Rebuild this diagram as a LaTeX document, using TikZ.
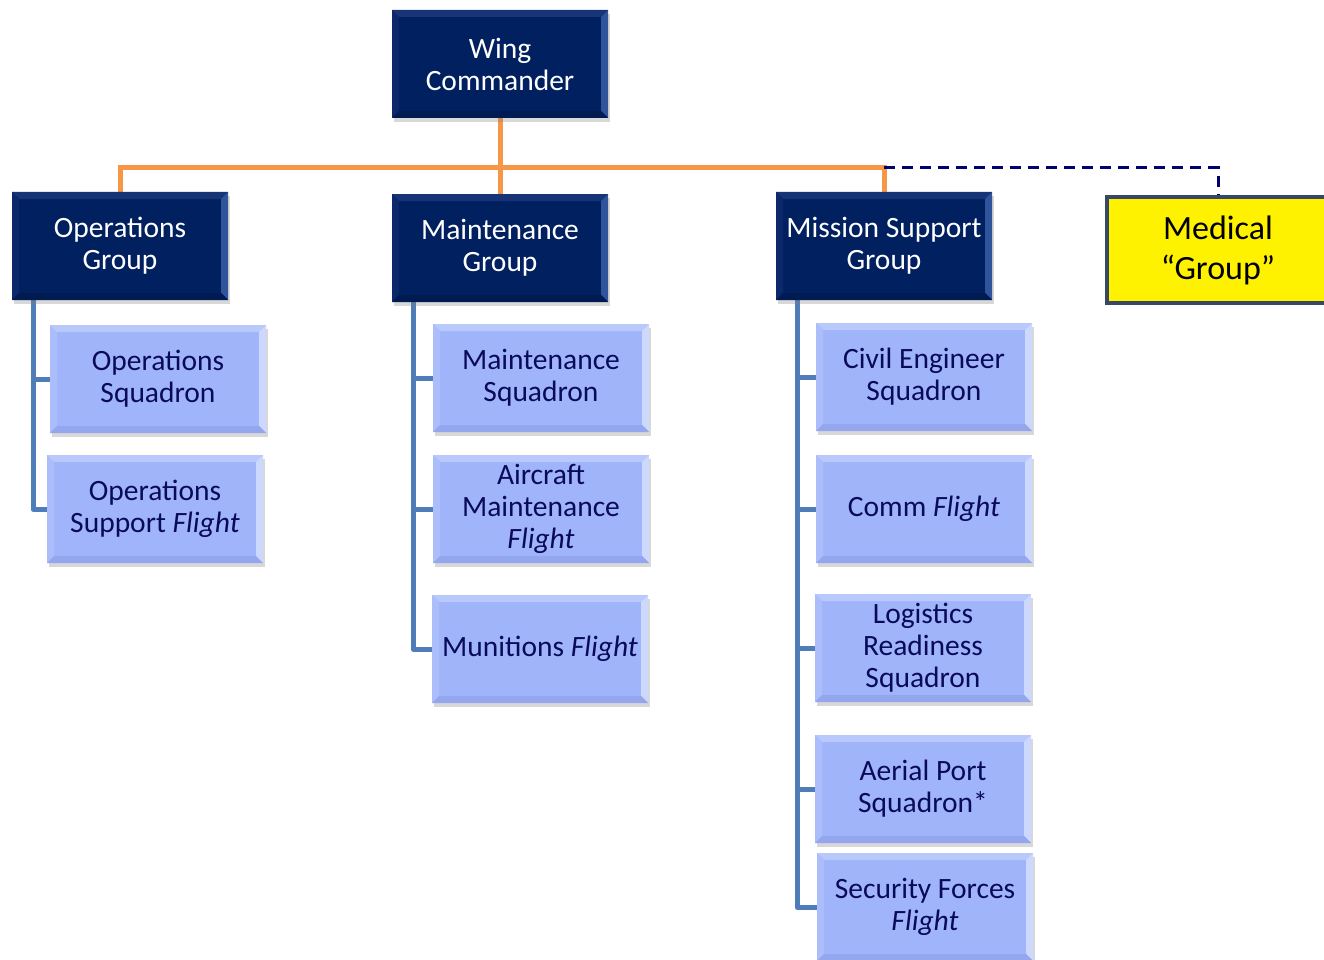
\documentclass[tikz,border=0pt]{standalone}
\usepackage{fontspec}
\setmainfont{Carlito}
\usetikzlibrary{shadows,calc}
\definecolor{navyfill}{RGB}{0,32,96}
\definecolor{navytop}{RGB}{22,52,118}
\definecolor{navyleft}{RGB}{10,40,106}
\definecolor{navyright}{RGB}{48,84,155}
\definecolor{navybot}{RGB}{0,26,82}
\definecolor{lightfill}{RGB}{160,180,250}
\definecolor{lighttop}{RGB}{186,201,252}
\definecolor{lightleft}{RGB}{171,189,251}
\definecolor{lightright}{RGB}{205,216,255}
\definecolor{lightbot}{RGB}{148,167,238}
\definecolor{lighttext}{RGB}{10,10,90}
\definecolor{orgline}{RGB}{247,150,70}
\definecolor{blueline}{RGB}{79,125,185}
\definecolor{dashnavy}{RGB}{0,0,110}
\definecolor{medborder}{RGB}{55,72,100}
\newcommand\bevelfill[4]{%
 \fill[#1] (path picture bounding box.north west) -- (path picture bounding box.north east) -- ([shift={(-7pt,-7pt)}]path picture bounding box.north east) -- ([shift={(7pt,-7pt)}]path picture bounding box.north west) -- cycle;
 \fill[#2] (path picture bounding box.north west) -- (path picture bounding box.south west) -- ([shift={(7pt,7pt)}]path picture bounding box.south west) -- ([shift={(7pt,-7pt)}]path picture bounding box.north west) -- cycle;
 \fill[#3] (path picture bounding box.north east) -- (path picture bounding box.south east) -- ([shift={(-7pt,7pt)}]path picture bounding box.south east) -- ([shift={(-7pt,-7pt)}]path picture bounding box.north east) -- cycle;
 \fill[#4] (path picture bounding box.south west) -- (path picture bounding box.south east) -- ([shift={(-7pt,7pt)}]path picture bounding box.south east) -- ([shift={(7pt,7pt)}]path picture bounding box.south west) -- cycle;
}
\pgfdeclarelayer{bg}
\pgfdeclarelayer{conn}
\pgfsetlayers{bg,conn,main}
\tikzset{
 orgbox/.style={rectangle, minimum width=216pt, minimum height=108pt, inner sep=0pt, align=center,
   drop shadow={shadow xshift=2pt, shadow yshift=-4pt, opacity=0.3}},
 darkbox/.style={orgbox, fill=navyfill, text=white, font=\fontsize{29.5}{32}\selectfont,
   path picture={\bevelfill{navytop}{navyleft}{navyright}{navybot}}},
 lightbox/.style={orgbox, fill=lightfill, text=lighttext, font=\fontsize{29.5}{32}\selectfont,
   path picture={\bevelfill{lighttop}{lightleft}{lightright}{lightbot}}},
 medbox/.style={rectangle, minimum width=222pt, minimum height=106pt, inner sep=0pt, align=center,
   fill=yellow, draw=medborder, line width=3.5pt, text=black, font=\fontsize{34}{40}\selectfont},
 orgconn/.style={draw=orgline, line width=5pt},
 blueconn/.style={draw=blueline, line width=5pt, line join=round},
 dashconn/.style={draw=dashnavy, line width=3pt, dash pattern=on 11pt off 7pt},
}
\begin{document}
\begin{tikzpicture}[x=1pt,y=-1pt]
\begin{pgfonlayer}{bg}
\fill[white] (0,0) rectangle (1324,960);
\end{pgfonlayer}
\useasboundingbox (0,0) rectangle (1324,960);

\node[darkbox] (wc) at (500,64) {Wing\\Commander};
\node[darkbox] (og) at (120,246) {Operations\\Group};
\node[darkbox] (mg) at (500,248) {Maintenance\\Group};
\node[darkbox] (msg) at (884,246) {Mission Support\\Group};
\node[medbox] (med) at (1218,250) {Medical\\“Group”};

\node[lightbox] (ops) at (158,379) {Operations\\Squadron};
\node[lightbox] (osf) at (155,509) {Operations\\Support \textit{Flight}};

\node[lightbox] (mxs) at (541,378) {Maintenance\\Squadron};
\node[lightbox] (amf) at (541,509) {Aircraft\\Maintenance\\\textit{Flight}};
\node[lightbox] (mun) at (540,649) {Munitions \textit{Flight}};

\node[lightbox] (ces) at (924,377) {Civil Engineer\\Squadron};
\node[lightbox] (com) at (924,509) {Comm \textit{Flight}};
\node[lightbox] (lrs) at (923,648) {Logistics\\Readiness\\Squadron};
\node[lightbox] (aps) at (923,789) {Aerial Port\\Squadron*};
\node[lightbox] (sff) at (925,907) {Security Forces\\\textit{Flight}};

\coordinate (hl) at (120,168);
\coordinate (hc) at (500,168);
\coordinate (hr) at (884,168);
\coordinate (otop) at (33,300);
\coordinate (mtop) at (413,302);
\coordinate (stop) at (797,300);

\begin{pgfonlayer}{conn}
\draw[orgconn] (wc.south) -- (mg.north);
\draw[orgconn] (og.north) -- (hl) -- (hr) -- (msg.north);
\draw[dashconn] (hr) -- (hr -| med.north) -- (med.north);

\draw[blueconn] (otop) |- (osf.west);
\draw[blueconn] (otop |- ops.west) -- (ops.west);

\draw[blueconn] (mtop) |- (mun.west);
\draw[blueconn] (mtop |- mxs.west) -- (mxs.west);
\draw[blueconn] (mtop |- amf.west) -- (amf.west);

\draw[blueconn] (stop) |- (sff.west);
\draw[blueconn] (stop |- ces.west) -- (ces.west);
\draw[blueconn] (stop |- com.west) -- (com.west);
\draw[blueconn] (stop |- lrs.west) -- (lrs.west);
\draw[blueconn] (stop |- aps.west) -- (aps.west);
\end{pgfonlayer}
\end{tikzpicture}
\end{document}
